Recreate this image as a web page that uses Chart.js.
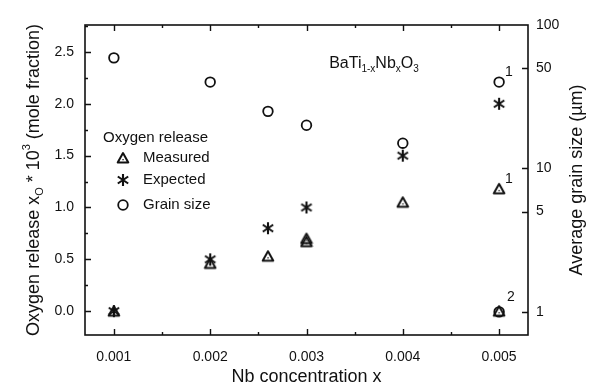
<!DOCTYPE html>
<html>
<head>
<meta charset="utf-8">
<script src="https://cdn.jsdelivr.net/npm/chart.js@4"></script>
<style>
  html, body { margin: 0; padding: 0; background: #fff; }
  #wrap { width: 594px; height: 392px; }
</style>
</head>
<body>
<div id="wrap"><canvas id="myChart" width="594" height="392"></canvas></div>
<script>
// data
const measuredX = [0.001, 0.002, 0.0026, 0.003, 0.003, 0.004, 0.005, 0.005];
const measuredY = [0.0, 0.46, 0.53, 0.67, 0.70, 1.05, 1.18, 0.0];
const expectedX = [0.001, 0.002, 0.0026, 0.003, 0.004, 0.005];
const expectedY = [0.0, 0.5, 0.8, 1.0, 1.5, 2.0];
const grainX = [0.001, 0.002, 0.0026, 0.003, 0.004, 0.005, 0.005];
const grainY = [59, 40, 25, 20, 15, 40, 1];
const xTicks = [0.001, 0.002, 0.003, 0.004, 0.005];
const yTicks = [0, 0.5, 1.0, 1.5, 2.0, 2.5];
const y2Ticks = [1, 5, 10, 50, 100];
// little footnote numbers next to some points: [x, value, axis, label]
const notes = [[0.005, 40, "y2", "1"], [0.005, 1.18, "y", "1"], [0.005, 0.0, "y", "2"]];

const FONT = "'Liberation Sans', Arial, sans-serif";
const INK = "#111";

function toPts(xs, ys) {
    return xs.map((x, i) => ({ x: x, y: ys[i] }));
}

// marker images
function makeTriangle() {
    const c = document.createElement("canvas");
    c.width = 14; c.height = 14;
    const g = c.getContext("2d");
    g.strokeStyle = INK;
    g.lineWidth = 2;
    g.lineJoin = "round";
    g.beginPath();
    g.moveTo(7, 2);
    g.lineTo(12.3, 11.5);
    g.lineTo(1.7, 11.5);
    g.closePath();
    g.stroke();
    g.fillStyle = INK;
    g.fillRect(6.4, 8, 1.3, 1.3);
    return c;
}

function makeAsterisk() {
    const c = document.createElement("canvas");
    c.width = 14; c.height = 14;
    const g = c.getContext("2d");
    g.strokeStyle = INK;
    g.lineWidth = 2.1;
    g.beginPath();
    g.moveTo(7, 1); g.lineTo(7, 13);
    g.moveTo(1.8, 3.5); g.lineTo(12.2, 10.5);
    g.moveTo(12.2, 3.5); g.lineTo(1.8, 10.5);
    g.stroke();
    return c;
}

const triImg = makeTriangle();
const starImg = makeAsterisk();

// draw text made of pieces: [text, shift] shift: 0 normal, 1 sub, -1 sup
function drawRich(ctx, parts, size, cx, cy) {
    const small = Math.round(size * 0.62);
    let w = 0;
    parts.forEach(p => {
        ctx.font = (p[1] ? small : size) + "px " + FONT;
        w += ctx.measureText(p[0]).width;
    });
    let x = cx - w / 2;
    ctx.textAlign = "left";
    ctx.textBaseline = "middle";
    parts.forEach(p => {
        ctx.font = (p[1] ? small : size) + "px " + FONT;
        let dy = 0;
        if (p[1] === 1) dy = size * 0.35;
        if (p[1] === -1) dy = -size * 0.4;
        ctx.fillText(p[0], x, cy + dy);
        x += ctx.measureText(p[0]).width;
    });
}

const decorPlugin = {
    id: "decor",
    afterDraw(chart) {
        const ctx = chart.ctx;
        const a = chart.chartArea;
        const sx = chart.scales.x, sy = chart.scales.y, sy2 = chart.scales.y2;
        ctx.save();
        ctx.strokeStyle = INK;
        ctx.lineWidth = 1.6;
        // frame
        ctx.strokeRect(a.left, a.top, a.right - a.left, a.bottom - a.top);

        // tick marks, pointing inwards
        ctx.lineWidth = 1.4;
        ctx.beginPath();
        for (let v = 0.001; v <= 0.00501; v += 0.0005) {
            const px = Math.round(sx.getPixelForValue(v)) + 0.5;
            const major = Math.abs(v * 1000 - Math.round(v * 1000)) < 0.01;
            const len = major ? 6 : 3;
            ctx.moveTo(px, a.bottom); ctx.lineTo(px, a.bottom - len);
            ctx.moveTo(px, a.top); ctx.lineTo(px, a.top + len);
        }
        for (let v = 0; v <= 2.76; v += 0.25) {
            const py = Math.round(sy.getPixelForValue(v)) + 0.5;
            const major = Math.abs(v * 2 - Math.round(v * 2)) < 0.01;
            const len = major ? 6 : 3;
            ctx.moveTo(a.left, py); ctx.lineTo(a.left + len, py);
        }
        y2Ticks.forEach(v => {
            const py = Math.round(sy2.getPixelForValue(v)) + 0.5;
            if (py > a.top + 2) {
                ctx.moveTo(a.right, py); ctx.lineTo(a.right - 6, py);
            }
        });
        ctx.stroke();

        ctx.fillStyle = INK;
        // axis titles
        drawRich(ctx, [["Nb concentration x", 0]], 18, (a.left + a.right) / 2, 377);

        ctx.save();
        ctx.translate(34, (a.top + a.bottom) / 2);
        ctx.rotate(-Math.PI / 2);
        drawRich(ctx, [["Oxygen release x", 0], ["O", 1], [" * 10", 0], ["3", -1], [" (mole fraction)", 0]], 18, 0, 0);
        ctx.restore();

        ctx.save();
        ctx.translate(577, (a.top + a.bottom) / 2);
        ctx.rotate(-Math.PI / 2);
        drawRich(ctx, [["Average grain size (\u00b5m)", 0]], 18, 0, 0);
        ctx.restore();

        // compound label
        drawRich(ctx, [["BaTi", 0], ["1-x", 1], ["Nb", 0], ["x", 1], ["O", 0], ["3", 1]], 16, 374, 64);

        // footnote numbers
        ctx.font = "14px " + FONT;
        ctx.textAlign = "left";
        ctx.textBaseline = "middle";
        notes.forEach(n => {
            const px = sx.getPixelForValue(n[0]);
            const py = chart.scales[n[2]].getPixelForValue(n[1]);
            const dx = n[3] === "2" ? 8 : 6;
            const dy = n[3] === "2" ? -14 : -10;
            ctx.fillText(n[3], px + dx, py + dy);
        });

        // legend
        ctx.font = "15px " + FONT;
        ctx.fillText("Oxygen release", 103, 138);
        const rows = [["Measured", 158, triImg], ["Expected", 180, starImg], ["Grain size", 205, null]];
        rows.forEach(r => {
            ctx.fillText(r[0], 143, r[1]);
            if (r[2]) {
                ctx.drawImage(r[2], 123 - 7, r[1] - 7);
            } else {
                ctx.beginPath();
                ctx.lineWidth = 1.8;
                ctx.arc(123, r[1], 4.8, 0, Math.PI * 2);
                ctx.stroke();
            }
        });
        ctx.restore();
    }
};

const ctx = document.getElementById("myChart").getContext("2d");
const myChart = new Chart(ctx, {
    type: "scatter",
    data: {
        datasets: [
            {
                label: "Measured",
                data: toPts(measuredX, measuredY),
                yAxisID: "y",
                pointStyle: triImg,
                pointRadius: 7,
            },
            {
                label: "Expected",
                data: toPts(expectedX, expectedY),
                yAxisID: "y",
                pointStyle: starImg,
                pointRadius: 7,
            },
            {
                label: "Grain size",
                data: toPts(grainX, grainY),
                yAxisID: "y2",
                pointStyle: "circle",
                pointRadius: 4.8,
                borderColor: INK,
                borderWidth: 1.8,
                backgroundColor: "rgba(0,0,0,0)",
            },
        ],
    },
    options: {
        responsive: false,
        animation: false,
        layout: { padding: { top: 25, left: 0, right: 0, bottom: 0 } },
        plugins: {
            legend: { display: false },
            tooltip: { enabled: false },
        },
        scales: {
            x: {
                type: "linear",
                position: "bottom",
                min: 0.0007,
                max: 0.0053,
                afterBuildTicks: s => { s.ticks = xTicks.map(v => ({ value: v })); },
                afterFit: s => { s.height = 57; },
                grid: { display: false },
                border: { display: false },
                ticks: {
                    color: INK,
                    font: { family: FONT, size: 14 },
                    padding: 6,
                    callback: v => v.toFixed(3),
                },
            },
            y: {
                type: "linear",
                position: "left",
                min: -0.23,
                max: 2.76,
                afterBuildTicks: s => { s.ticks = yTicks.map(v => ({ value: v })); },
                afterFit: s => { s.width = 85; },
                grid: { display: false },
                border: { display: false },
                ticks: {
                    color: INK,
                    font: { family: FONT, size: 14 },
                    padding: 3,
                    callback: v => v.toFixed(1),
                },
            },
            y2: {
                type: "logarithmic",
                position: "right",
                min: 0.69,
                max: 100,
                afterBuildTicks: s => { s.ticks = y2Ticks.map(v => ({ value: v })); },
                afterFit: s => { s.width = 66; },
                grid: { display: false },
                border: { display: false },
                ticks: {
                    color: INK,
                    font: { family: FONT, size: 14 },
                    padding: 0,
                    callback: v => String(v),
                },
            },
        },
    },
    plugins: [decorPlugin],
});
</script>
</body>
</html>
